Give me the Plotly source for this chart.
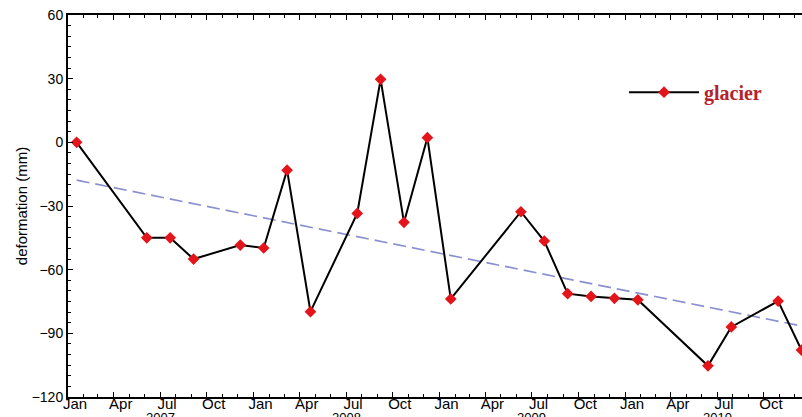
import plotly.graph_objects as go

# --- data ---
dates = ["2007-01-18", "2007-06-05", "2007-07-21", "2007-09-05", "2007-12-06",
         "2008-01-21", "2008-03-07", "2008-04-22", "2008-07-23", "2008-09-07",
         "2008-10-23", "2008-12-08", "2009-01-23", "2009-06-10", "2009-07-26",
         "2009-09-10", "2009-10-26", "2009-12-11", "2010-01-26", "2010-06-13",
         "2010-07-29", "2010-10-29", "2010-12-14"]
deformation = [0, -45, -45, -55, -48.4,
               -49.8, -13.1, -79.8, -33.5, 29.7,
               -37.7, 2.2, -73.8, -32.7, -46.5,
               -71.3, -72.6, -73.5, -74.2, -105.3,
               -87, -74.8, -97.9]
trend_dates = ["2007-01-18", "2010-12-15"]
trend_values = [-17.8, -86.6]
year_labels = ["2007", "2008", "2009", "2010"]
year_label_dates = ["2007-07-01", "2008-07-01", "2009-07-01", "2010-07-01"]

x_range = ["2007-01-01", "2010-12-15"]
y_range = [-120, 60]

fig = go.Figure()
fig.add_trace(go.Scatter(
    x=trend_dates, y=trend_values, mode="lines",
    line=dict(color="#8a8fd0", width=1.6, dash="13px,6px"),
    showlegend=False, hoverinfo="skip"))
fig.add_trace(go.Scatter(
    x=dates, y=deformation, mode="lines+markers", name="glacier",
    line=dict(color="black", width=2),
    marker=dict(symbol="diamond", size=9, color="#e4141b",
                line=dict(width=0))))
# invisible trace on top axis so xaxis2 is drawn
fig.add_trace(go.Scatter(x=x_range, y=y_range, xaxis="x2", mode="markers",
                         marker=dict(opacity=0), showlegend=False, hoverinfo="skip"))

sans = "Liberation Sans, Arial, sans-serif"

for ylab, ydate in zip(year_labels, year_label_dates):
    fig.add_annotation(x=ydate, y=-0.028, xref="x", yref="paper",
                       text=ylab, showarrow=False, yanchor="top",
                       font=dict(size=13, color="black", family=sans))

xtick_font = dict(family=sans, size=15, color="black")
ytick_font = dict(family=sans, size=14, color="black")

fig.update_layout(
    width=802, height=417,
    margin=dict(l=68, r=0, t=15, b=20, autoexpand=False),
    paper_bgcolor="white", plot_bgcolor="white",
    font=dict(family=sans, size=14, color="black"),
    xaxis=dict(
        type="date", range=x_range, tick0="2007-01-01", dtick="M3",
        tickformat="%b", ticks="inside", ticklen=5, tickwidth=1,
        tickcolor="black", showline=True, linecolor="black", linewidth=2,
        showgrid=False, zeroline=False, ticklabelshift=7, ticklabelstandoff=-8,
        ticklabeloverflow="allow",
        minor=dict(dtick="M1", ticks="inside", ticklen=3, tickcolor="black"),
        tickfont=xtick_font, automargin=False,
    ),
    xaxis2=dict(
        type="date", overlaying="x", side="top", matches="x",
        tick0="2007-01-01", dtick="M3", ticks="inside", ticklen=5,
        tickcolor="black", showline=True, linecolor="black", linewidth=2,
        showticklabels=False, showgrid=False, zeroline=False,
        minor=dict(dtick="M1", ticks="inside", ticklen=3, tickcolor="black"),
        automargin=False,
    ),
    yaxis=dict(
        range=y_range, dtick=30, tick0=0, ticks="inside", ticklen=5,
        tickcolor="black", showline=True, linecolor="black", linewidth=2,
        showgrid=False, zeroline=False, ticklabeloverflow="allow",
        minor=dict(dtick=5, ticks="inside", ticklen=3, tickcolor="black"),
        title=dict(text="deformation (mm)", font=dict(family=sans, size=15, color="black"),
                   standoff=0),
        tickfont=ytick_font, automargin=False,
    ),
    legend=dict(
        x=0.7575, y=0.798, xanchor="left", yanchor="middle",
        bgcolor="rgba(0,0,0,0)", itemwidth=70,
        font=dict(family="Liberation Serif, Times New Roman, serif",
                  size=20, color="#b5222a", weight="bold"),
    ),
)

fig.write_html(
    "out.html",
    config={"displayModeBar": False},
    post_script="document.body.style.margin='0';document.body.style.overflow='hidden';",
)
